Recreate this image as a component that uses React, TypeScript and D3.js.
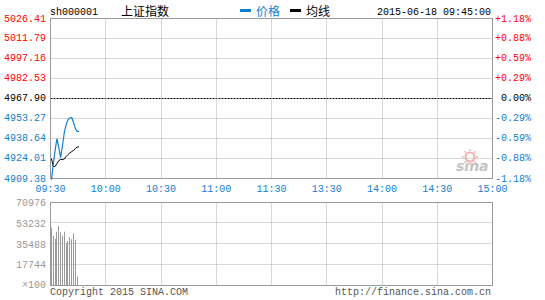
import React from "react";
import * as d3 from "d3";

// ---- data ----
const symbol = "sh000001";
const indexName = "上证指数";
const legendPrice = "价格";
const legendAvg = "均线";
const timestamp = "2015-06-18 09:45:00";
const prevClose = 4967.9;
const priceTicks = [5026.41, 5011.79, 4997.16, 4982.53, 4967.9, 4953.27, 4938.64, 4924.01, 4909.38];
const pctLabels = ["+1.18%", "+0.88%", "+0.59%", "+0.29%", "0.00%", "-0.29%", "-0.59%", "-0.88%", "-1.18%"];
const timeLabels = ["09:30", "10:00", "10:30", "11:00", "11:30", "13:30", "14:00", "14:30", "15:00"];
const volTicks = [70976, 53232, 35488, 17744];
const volUnit = "×100";
// minute-by-minute from 09:30
const prices = [
  4908.6, 4919.6, 4929.9, 4938.6, 4932.1, 4924.7, 4933.5, 4943.0,
  4948.9, 4952.5, 4953.6, 4954.0, 4950.3, 4945.9, 4943.8, 4943.8,
];
const avgPrices = [
  4924.0, 4918.2, 4918.2, 4920.4, 4922.5, 4923.3, 4923.3, 4923.6,
  4925.5, 4926.9, 4928.0, 4929.1, 4929.9, 4931.3, 4932.4, 4932.4,
];
const volumes = [
  49000, 42160, 39336, 45580, 50453, 45065, 42160, 45580,
  35700, 37600, 40800, 39100, 44200, 38500, 7100,
];

const BLUE = "#1080d0";
const RED = "#ff0000";
const GRID = "#b0b0b0";
const FRAME = "#999999";
const MONO = "'Liberation Mono', 'DejaVu Sans Mono', monospace";
const CJK = "'Noto Sans CJK SC', sans-serif";

export default function App() {
  const left = 50.5, right = 492.5;
  const x = d3.scaleLinear().domain([0, 240]).range([left, right]);
  const y = d3.scaleLinear().domain([priceTicks[priceTicks.length - 1], priceTicks[0]]).range([178.5, 18.5]);
  const yv = d3.scaleLinear().domain([0, volTicks[0]]).range([285, 202]);
  const crisp = (v: number) => Math.floor(v) + 0.5;

  const line = d3.line<number>().x((_, i) => x(i + 0.5)).y((d) => y(d));
  const vGridMinutes = [30, 60, 90, 120, 150, 180, 210];

  return (
    <svg width={545} height={300} style={{ position: "absolute", left: 0, top: 0, background: "#fff" }}>
      {/* header */}
      <text x={50} y={15} fontFamily={MONO} fontSize={10} fill="#000">{symbol}</text>
      <text x={121} y={16} fontFamily={CJK} fontSize={12} fill="#000">{indexName}</text>
      <rect x={240} y={9} width={11} height={3} fill={BLUE} />
      <text x={256} y={16} fontFamily={CJK} fontSize={12} fill={BLUE}>{legendPrice}</text>
      <rect x={290} y={9} width={11} height={3} fill="#000" />
      <text x={306} y={16} fontFamily={CJK} fontSize={12} fill="#000">{legendAvg}</text>
      <text x={491} y={15} textAnchor="end" fontFamily={MONO} fontSize={10} fill="#000">{timestamp}</text>

      {/* main grid */}
      {priceTicks.slice(1, -1).map((t, i) => {
        const yy = crisp(y(t));
        const isPrev = t === prevClose;
        return (
          <line key={"h" + i} x1={left} x2={right} y1={yy} y2={yy}
            stroke={isPrev ? "#000" : GRID} strokeDasharray={isPrev ? "2,1" : "1,1"} />
        );
      })}
      {vGridMinutes.map((m) => (
        <line key={"v" + m} x1={crisp(x(m))} x2={crisp(x(m))} y1={18.5} y2={178.5} stroke={GRID} strokeDasharray="1,1" />
      ))}

      {/* watermark */}
      <g opacity={0.75}>
        <circle cx={470} cy={157} r={4.5} fill="none" stroke="#f29a9a" strokeWidth={2.2} />
        {d3.range(8).map((k) => {
          const a = (k / 8) * Math.PI * 2;
          return (
            <line key={"r" + k} x1={470 + Math.cos(a) * 6} y1={157 + Math.sin(a) * 6}
              x2={470 + Math.cos(a) * 8} y2={157 + Math.sin(a) * 8} stroke="#f29a9a" strokeWidth={1.5} />
          );
        })}
        <text x={456} y={171} fontFamily="'DejaVu Sans', sans-serif" fontStyle="italic" fontWeight="bold" fontSize={14} fill="#b0b0b0">sina</text>
      </g>

      {/* main frame */}
      <rect x={left} y={18.5} width={right - left} height={160} fill="none" stroke={FRAME} />

      {/* lines */}
      <path d={line(avgPrices) || ""} fill="none" stroke="#000" strokeWidth={1} />
      <path d={line(prices) || ""} fill="none" stroke={BLUE} strokeWidth={1.2} />

      {/* left price labels */}
      {priceTicks.map((t, i) => (
        <text key={"pl" + i} x={46} y={y(t) + 3} textAnchor="end" fontFamily={MONO} fontSize={10}
          fill={t > prevClose ? RED : t < prevClose ? BLUE : "#000"}>{t.toFixed(2)}</text>
      ))}
      {/* right pct labels */}
      {priceTicks.map((t, i) => (
        <text key={"pr" + i} x={531} y={y(t) + 3} textAnchor="end" fontFamily={MONO} fontSize={10}
          fill={t > prevClose ? RED : t < prevClose ? BLUE : "#000"}>{pctLabels[i]}</text>
      ))}
      {/* time labels */}
      {timeLabels.map((lab, i) => (
        <text key={"tl" + i} x={x(i * 30)} y={192} textAnchor="middle" fontFamily={MONO} fontSize={10} fill={BLUE}>{lab}</text>
      ))}

      {/* volume grid */}
      {volTicks.slice(1).map((t, i) => (
        <line key={"vh" + i} x1={left} x2={right} y1={crisp(yv(t))} y2={crisp(yv(t))} stroke={GRID} strokeDasharray="1,1" />
      ))}
      {vGridMinutes.map((m) => (
        <line key={"vv" + m} x1={crisp(x(m))} x2={crisp(x(m))} y1={202.5} y2={285.5} stroke={GRID} strokeDasharray="1,1" />
      ))}
      {/* volume bars */}
      {volumes.map((v, i) => (
        <line key={"b" + i} x1={crisp(x(i + 0.5))} x2={crisp(x(i + 0.5))} y1={yv(0)} y2={yv(v)} stroke="#999" strokeWidth={1} />
      ))}
      <rect x={left} y={202.5} width={right - left} height={83} fill="none" stroke={FRAME} />

      {/* volume labels */}
      {volTicks.map((t, i) => (
        <text key={"vl" + i} x={46} y={yv(t) + 4} textAnchor="end" fontFamily={MONO} fontSize={10} fill="#999">{t}</text>
      ))}
      <text x={46} y={288} textAnchor="end" fontFamily={MONO} fontSize={10} fill="#999">{volUnit}</text>

      {/* footer */}
      <text x={50} y={295} fontFamily={MONO} fontSize={10} fill="#555">Copyright 2015 SINA.COM</text>
      <text x={491} y={295} textAnchor="end" fontFamily={MONO} fontSize={10} fill="#555">http://finance.sina.com.cn</text>
    </svg>
  );
}
